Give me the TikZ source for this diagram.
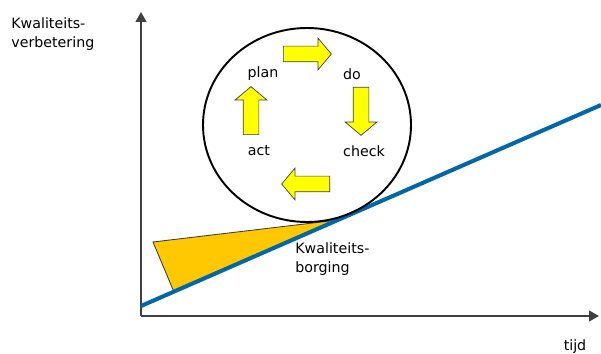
\documentclass[tikz,border=0pt]{standalone}
\usepackage{fontspec}
\setmainfont{DejaVu Sans}
\usepackage{tikz}
\usetikzlibrary{arrows.meta,shapes.arrows}
\definecolor{axisgray}{RGB}{64,64,64}
\definecolor{lineblue}{RGB}{0,104,170}
\definecolor{wedgeyellow}{RGB}{255,200,0}
\definecolor{cycleyellow}{RGB}{255,255,0}

\begin{document}
\begin{tikzpicture}[
  x=0.02cm, y=-0.02cm,
  font=\fontsize{8.1}{10.4}\selectfont,
  lbl/.style={inner sep=0pt, align=left},
  axis/.style={-{Triangle[length=5.6pt,width=6pt]}, line width=1.1pt, axisgray},
  fatarr/.style={single arrow, draw=axisgray, fill=cycleyellow, line width=0.4pt,
                 inner xsep=0pt, inner ysep=0.15cm, minimum height=0.96cm,
                 single arrow head extend=0.16cm, single arrow tip angle=100,
                 anchor=tail}
]
\useasboundingbox (0,0) rectangle (601,354);

%% Axes
\coordinate (origin) at (141,316);
\coordinate (ytop) at (141,12);
\coordinate (xend) at (599,316);
\draw[axis] (origin) -- (ytop);
\draw[axis] (origin) -- (xend);

%% Axis labels
\node[lbl, anchor=west] (yl) at (11,34) {Kwaliteits-\\verbetering};
\node[lbl] (xl) at (575,347) {tijd};

%% Quality assurance wedge
\coordinate (w1) at (153,242);
\coordinate (w2) at (174,292);
\coordinate (w3) at (338,220);
\draw[fill=wedgeyellow, draw=axisgray, line width=0.5pt] (w1) -- (w2) -- (w3) -- cycle;

%% Improvement line
\coordinate (l1) at (141,306);
\coordinate (l2) at (601,105);
\draw[lineblue, line width=2.3pt] (l1) -- (l2);

\node[lbl, anchor=west] (qa) at (295,259) {Kwaliteits-\\borging};

%% PDCA wheel
\draw[line width=1.1pt] (307,125) ellipse [x radius=104, y radius=97];

\node[fatarr] (a1) at (283,54) {};
\node[fatarr, rotate=-90] (a2) at (361,87) {};
\node[fatarr, rotate=180] (a3) at (330,184) {};
\node[fatarr, rotate=90] (a4) at (251,135) {};

\node[lbl] (plan) at (263,74) {plan};
\node[lbl] (do) at (352,74) {do};
\node[lbl] (check) at (364,151) {check};
\node[lbl] (act) at (259,151) {act};

\end{tikzpicture}
\end{document}
